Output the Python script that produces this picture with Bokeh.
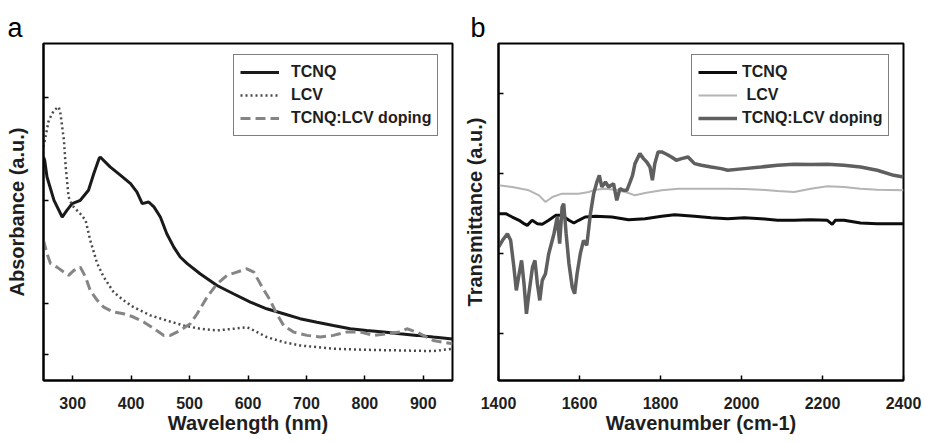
from bokeh.plotting import figure
from bokeh.layouts import row
from bokeh.models import (Range1d, FixedTicker, CustomJSTickFormatter, Legend,
                          LegendItem, Title)
from bokeh.embed import file_html
from bokeh.resources import INLINE

# ---------------- Panel a: UV-vis absorbance ----------------
tcnq_a_x = [250, 252, 256, 268, 282, 290, 299, 313, 327, 336, 345, 347, 364, 382, 399,
            410, 419, 430, 439, 450, 461, 473, 484, 496, 518, 547, 575, 604, 632, 661,
            689, 718, 746, 775, 803, 832, 860, 889, 917, 950]
tcnq_a_y = [1.21, 1.194, 1.113, 1.0, 0.919, 0.951, 0.984, 1.0, 1.049, 1.129, 1.202, 1.21,
            1.162, 1.121, 1.081, 1.040, 0.984, 0.992, 0.968, 0.919, 0.838, 0.773, 0.725,
            0.693, 0.644, 0.587, 0.547, 0.506, 0.474, 0.450, 0.426, 0.409, 0.393, 0.377,
            0.369, 0.361, 0.353, 0.345, 0.337, 0.328]

lcv_a_x = [250, 259, 268, 276, 279, 285, 288, 293, 299, 313, 322, 330, 342, 353, 370,
           387, 404, 433, 461, 490, 518, 547, 575, 598, 610, 632, 661, 689, 718, 746,
           803, 860, 917, 950]
lcv_a_y = [1.259, 1.388, 1.437, 1.453, 1.421, 1.291, 1.162, 1.016, 0.976, 0.935, 0.903,
           0.806, 0.693, 0.628, 0.555, 0.515, 0.482, 0.442, 0.417, 0.393, 0.377, 0.369,
           0.377, 0.385, 0.369, 0.337, 0.312, 0.296, 0.288, 0.280, 0.275, 0.272, 0.269,
           0.280]

dop_a_x = [250, 256, 262, 273, 285, 293, 302, 313, 322, 330, 342, 353, 370, 387, 404,
           422, 439, 456, 467, 484, 501, 513, 530, 547, 564, 581, 598, 610, 621, 638,
           649, 661, 678, 701, 724, 746, 769, 792, 815, 838, 860, 872, 889, 917, 950]
dop_a_y = [0.806, 0.741, 0.693, 0.676, 0.652, 0.636, 0.660, 0.676, 0.628, 0.563, 0.515,
           0.482, 0.458, 0.450, 0.434, 0.409, 0.377, 0.345, 0.345, 0.369, 0.401, 0.450,
           0.531, 0.595, 0.636, 0.652, 0.668, 0.652, 0.595, 0.515, 0.450, 0.393, 0.361,
           0.345, 0.337, 0.345, 0.361, 0.361, 0.345, 0.353, 0.361, 0.377, 0.361, 0.320,
           0.304]

a_xticks = [300, 400, 500, 600, 700, 800, 900]
a_yticks = [0.25, 0.5, 1.0, 1.5]

# ---------------- Panel b: FTIR transmittance ----------------
tcnq_b_x = [1400, 1418, 1434, 1451, 1463, 1471, 1483, 1496, 1508, 1524, 1541, 1557, 1574,
            1586, 1598, 1614, 1639, 1680, 1721, 1762, 1803, 1835, 1884, 1925, 1966, 2007,
            2048, 2089, 2130, 2171, 2212, 2224, 2232, 2253, 2294, 2335, 2400]
tcnq_b_y = [2.5, 2.5, 2.458, 2.417, 2.375, 2.354, 2.417, 2.375, 2.367, 2.417, 2.479, 2.479,
            2.417, 2.383, 2.417, 2.458, 2.467, 2.458, 2.425, 2.4375, 2.467, 2.4875, 2.467,
            2.45, 2.4375, 2.45, 2.4375, 2.417, 2.417, 2.425, 2.417, 2.367, 2.417, 2.417,
            2.383, 2.375, 2.375]

lcv_b_x = [1400, 1434, 1475, 1500, 1516, 1533, 1557, 1598, 1623, 1639, 1664, 1696, 1721,
           1737, 1762, 1803, 1844, 1884, 1925, 1966, 2007, 2048, 2089, 2130, 2171, 2212,
           2253, 2294, 2335, 2400]
lcv_b_y = [2.854, 2.833, 2.792, 2.729, 2.646, 2.708, 2.75, 2.75, 2.771, 2.8, 2.8125,
           2.792, 2.758, 2.729, 2.758, 2.792, 2.8125, 2.8125, 2.8125, 2.8125, 2.808, 2.8,
           2.783, 2.771, 2.8125, 2.842, 2.833, 2.8125, 2.8, 2.792]

dop_b_x = [1400, 1410, 1422, 1430, 1438, 1444, 1451, 1457, 1463, 1469, 1475, 1484, 1490,
           1496, 1502, 1508, 1516, 1524, 1537, 1545, 1551, 1557, 1561, 1567, 1574, 1582,
           1588, 1594, 1602, 1610, 1618, 1627, 1635, 1643, 1649, 1655, 1664, 1672, 1684,
           1692, 1700, 1708, 1717, 1725, 1731, 1737, 1749, 1758, 1766, 1774, 1780, 1786,
           1794, 1803, 1815, 1827, 1839, 1852, 1868, 1884, 1901, 1925, 1950, 1966, 2007,
           2048, 2089, 2130, 2171, 2212, 2253, 2294, 2335, 2376, 2400]
dop_b_y = [2.083, 2.167, 2.25, 2.167, 1.833, 1.542, 1.75, 1.917, 1.625, 1.25, 1.5, 1.833,
           1.917, 1.625, 1.417, 1.667, 1.75, 2.0, 2.25, 2.458, 2.125, 2.583, 2.625, 2.25,
           1.875, 1.583, 1.5, 1.75, 2.0, 2.167, 2.104, 2.5, 2.75, 2.896, 2.979, 2.833,
           2.896, 2.833, 2.875, 2.667, 2.8125, 2.792, 2.792, 2.896, 2.979, 3.125, 3.25,
           3.1875, 3.146, 3.083, 2.917, 3.125, 3.271, 3.271, 3.242, 3.208, 3.167, 3.1875,
           3.208, 3.125, 3.104, 3.083, 3.0625, 3.042, 3.0625, 3.083, 3.104, 3.117, 3.1125,
           3.117, 3.104, 3.083, 3.042, 2.979, 2.958]

b_xticks = [1400, 1600, 1800, 2000, 2200, 2400]
b_yticks = [1, 2, 3, 4]

FONT = "Liberation Sans"
TXT = "#1e1e1e"


def style(p, xticks, yticks, xlabel, ylabel, y_standoff):
    p.outline_line_color = "black"
    p.outline_line_width = 2
    p.xgrid.visible = False
    p.ygrid.visible = False
    for ax in (p.xaxis, p.yaxis):
        ax.axis_line_color = "black"
        ax.axis_line_width = 2
        ax.major_tick_in = 5
        ax.major_tick_out = 0
        ax.minor_tick_line_color = None
        ax.major_tick_line_color = "black"
        ax.major_tick_line_width = 1.5
        ax.axis_label_text_font = FONT
        ax.axis_label_text_font_style = "bold"
        ax.axis_label_text_font_size = "20px"
        ax.axis_label_text_color = TXT
    p.xaxis.ticker = FixedTicker(ticks=xticks)
    p.yaxis.ticker = FixedTicker(ticks=yticks)
    p.xaxis.major_label_text_font = FONT
    p.xaxis.major_label_text_font_style = "bold"
    p.xaxis.major_label_text_font_size = "16px"
    p.xaxis.major_label_text_color = TXT
    p.xaxis.major_label_standoff = 16
    p.xaxis.axis_label_standoff = 0
    p.yaxis.formatter = CustomJSTickFormatter(code="return ''")
    p.yaxis.major_label_standoff = 0
    p.yaxis.axis_label_standoff = y_standoff
    p.xaxis.axis_label = xlabel
    p.yaxis.axis_label = ylabel


def make_legend(p, items, x, y, standoff):
    leg = Legend(items=items, location=(x, y))
    leg.border_line_color = "black"
    leg.border_line_width = 1.2
    leg.background_fill_alpha = 1
    leg.label_text_font = FONT
    leg.label_text_font_style = "bold"
    leg.label_text_font_size = "16px"
    leg.label_text_color = TXT
    leg.glyph_width = 39
    leg.glyph_height = 22
    leg.label_height = 22
    leg.label_standoff = standoff
    leg.padding = 6
    leg.spacing = 1
    p.add_layout(leg, "center")


def panel_letter(p, letter, offset):
    p.add_layout(Title(text=letter, align="left", offset=offset, standoff=2,
                       text_font=FONT, text_font_size="27px",
                       text_font_style="normal", text_color="black"), "above")


# ---------------- Figure a ----------------
pa = figure(width=460, height=443, output_backend="svg", toolbar_location=None,
            x_range=Range1d(250, 950), y_range=Range1d(0.1262, 1.7605),
            min_border_left=43, min_border_right=8, min_border_top=43,
            min_border_bottom=63)
style(pa, a_xticks, a_yticks, "Wavelength (nm)", "Absorbance (a.u.)", 16)

ra1 = pa.line(tcnq_a_x, tcnq_a_y, line_color="#1a1a1a", line_width=3)
ra2 = pa.line(lcv_a_x, lcv_a_y, line_color="#4a4a4a", line_width=2.5,
              line_dash="2 3")
ra3 = pa.line(dop_a_x, dop_a_y, line_color="#858585", line_width=3,
              line_dash="10 5")
make_legend(pa, [LegendItem(label="TCNQ", renderers=[ra1]),
                 LegendItem(label="LCV", renderers=[ra2]),
                 LegendItem(label="TCNQ:LCV doping", renderers=[ra3])],
            190, 244, 12)
panel_letter(pa, "a", -36)

# ---------------- Figure b ----------------
pb = figure(width=465, height=443, output_backend="svg", toolbar_location=None,
            x_range=Range1d(1400, 2400), y_range=Range1d(0.4167, 4.625),
            min_border_left=36, min_border_right=22, min_border_top=43,
            min_border_bottom=63)
style(pb, b_xticks, b_yticks, "Wavenumber (cm-1)", "Transmittance (a.u.)", 13)

rb1 = pb.line(tcnq_b_x, tcnq_b_y, line_color="#0d0d0d", line_width=3)
rb2 = pb.line(lcv_b_x, lcv_b_y, line_color="#b4b4b4", line_width=2)
rb3 = pb.line(dop_b_x, dop_b_y, line_color="#5f5f5f", line_width=3.5)
make_legend(pb, [LegendItem(label="TCNQ", renderers=[rb1]),
                 LegendItem(label=" LCV", renderers=[rb2]),
                 LegendItem(label="TCNQ:LCV doping", renderers=[rb3])],
            193, 244, 5)
panel_letter(pb, "b", -28)

layout = row(pa, pb)
open("out.html", "w").write(file_html(layout, INLINE))
